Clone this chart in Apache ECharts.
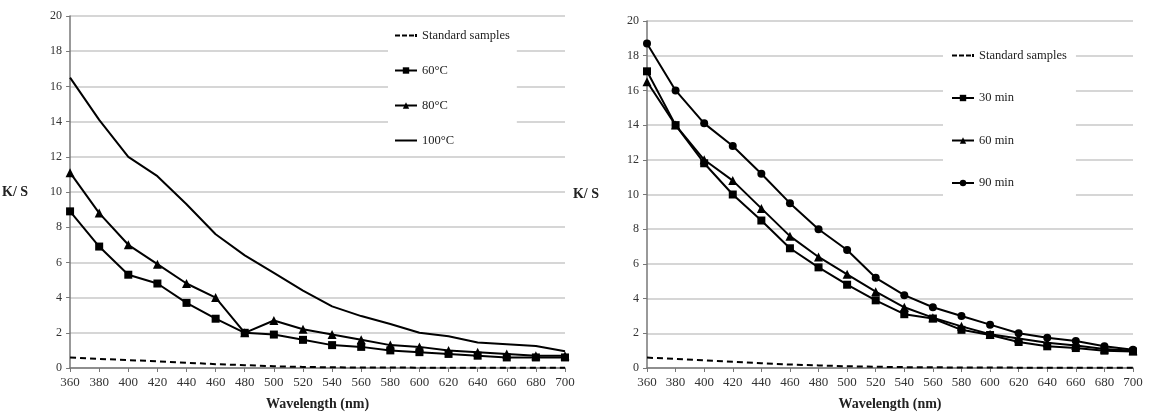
<!DOCTYPE html>
<html><head><meta charset="utf-8">
<script src="https://cdn.jsdelivr.net/npm/echarts@6/dist/echarts.min.js"></script>
<style>html,body{margin:0;padding:0;background:#fff}#c{width:1152px;height:416px}</style>
</head><body><div id="c"></div>
<script>
const wavelengths = ['360','380','400','420','440','460','480','500','520','540','560','580','600','620','640','660','680','700'];
// Left chart (temperature)
const leftStandard = [0.6,0.52,0.45,0.38,0.3,0.22,0.16,0.1,0.06,0.04,0.03,0.03,0.02,0.02,0.02,0.02,0.02,0.02];
const left60 = [8.9,6.9,5.3,4.8,3.7,2.8,2.0,1.9,1.6,1.3,1.2,1.0,0.9,0.8,0.7,0.6,0.6,0.6];
const left80 = [11.1,8.8,7.0,5.9,4.8,4.0,2.0,2.7,2.2,1.9,1.6,1.3,1.2,1.0,0.9,0.8,0.7,0.7];
const left100 = [16.5,14.1,12.0,10.9,9.3,7.6,6.4,5.4,4.4,3.5,2.95,2.5,2.0,1.8,1.45,1.35,1.25,0.95];
// Right chart (time)
const rightStandard = [0.6,0.52,0.44,0.36,0.28,0.2,0.15,0.1,0.07,0.05,0.04,0.03,0.03,0.02,0.02,0.02,0.02,0.02];
const right30 = [17.1,14.0,11.8,10.0,8.5,6.9,5.8,4.8,3.9,3.1,2.85,2.2,1.9,1.5,1.25,1.15,1.0,0.95];
const right60 = [16.5,14.0,12.0,10.8,9.2,7.6,6.4,5.4,4.4,3.5,2.9,2.4,1.95,1.7,1.45,1.3,1.1,1.0];
const right90 = [18.7,16.0,14.1,12.8,11.2,9.5,8.0,6.8,5.2,4.2,3.5,3.0,2.5,2.0,1.75,1.55,1.25,1.05];
const yTicks = {min:0, max:20, interval:2};

const serif = 'Liberation Serif';
const chart = echarts.init(document.getElementById('c'));
function xAx(gi){
  return {type:'category', gridIndex:gi, data:wavelengths, boundaryGap:false,
    axisLine:{lineStyle:{color:'#777',width:1.5}}, axisTick:{show:true,length:4,lineStyle:{color:'#777'}},
    axisLabel:{color:'#333',fontFamily:serif,fontSize:13,margin:8},
    name:'Wavelength (nm)', nameLocation:'middle', nameGap:29,
    nameTextStyle:{fontFamily:serif,fontWeight:'bold',fontSize:14,color:'#222'}, splitLine:{show:false}};
}
function yAx(gi,gap){
  return {type:'value', gridIndex:gi, min:yTicks.min, max:yTicks.max, interval:yTicks.interval,
    axisLine:{show:true,lineStyle:{color:'#777',width:1.5}}, axisTick:{show:true,length:4,lineStyle:{color:'#777'}},
    axisLabel:{color:'#333',fontFamily:serif,fontSize:12,margin:8},
    splitLine:{lineStyle:{color:'#c8c8c8',width:1.5}},
    name:'K/ S', nameLocation:'middle', nameRotate:0, nameGap:gap,
    nameTextStyle:{fontFamily:serif,fontWeight:'bold',fontSize:14,color:'#222'}};
}
function line(name,data,gi,symbol,dashed){
  return {type:'line', name:name, data:data, xAxisIndex:gi, yAxisIndex:gi,
    symbol:symbol||'none', symbolSize:symbol==='triangle'?9:8, showSymbol:!!symbol,
    itemStyle:{color:'#000'}, lineStyle:{color:'#000',width:2,type:dashed?[6,4]:'solid'},
    emphasis:{disabled:true}, animation:false};
}
const solidIcon = 'path://M0,0h22v2h-22z';
const dashIcon = 'path://M0,0h5v2h-5zM7,0h5v2h-5zM14,0h5v2h-5zM20,-0.5h2v3h-2z';
const lt = {fontFamily:serif,fontSize:12.5,color:'#222'};
chart.setOption({
  backgroundColor:'#fff',
  animation:false,
  grid:[{left:65,right:587,top:16,bottom:44},{left:647,right:19,top:21,bottom:40}],
  xAxis:[xAx(0),xAx(1)],
  yAxis:[yAx(0,42),yAx(1,48)],
  legend:[
    {data:[{name:'Standard samples',icon:dashIcon},'60°C','80°C',{name:'100°C',icon:solidIcon}], orient:'vertical', left:388, top:25, itemGap:22,
     itemWidth:22, itemHeight:8, backgroundColor:'#fff', padding:[4,7,8,6], textStyle:lt},
    {data:[{name:'Standard samples ',icon:dashIcon},'30 min','60 min','90 min'], orient:'vertical', left:943, top:45, itemGap:29.5,
     itemWidth:22, itemHeight:8, backgroundColor:'#fff', padding:[4,6,16,8], textStyle:lt}
  ],
  series:[
    line('Standard samples',leftStandard,0,null,true),
    line('60°C',left60,0,'rect'),
    line('80°C',left80,0,'triangle'),
    line('100°C',left100,0,null),
    line('Standard samples ',rightStandard,1,null,true),
    line('30 min',right30,1,'rect'),
    line('60 min',right60,1,'triangle'),
    line('90 min',right90,1,'circle')
  ]
});
</script></body></html>
